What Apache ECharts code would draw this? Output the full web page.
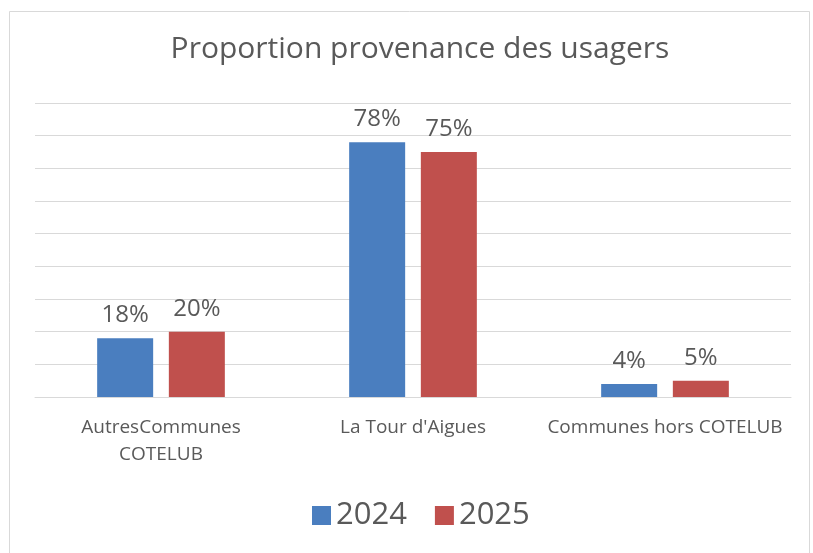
<!DOCTYPE html>
<html>
<head>
<meta charset="utf-8">
<script src="https://cdn.jsdelivr.net/npm/echarts@6/dist/echarts.min.js"></script>
<style>
html,body{margin:0;padding:0;background:#fff;}
#c{width:813px;height:553px;}
</style>
</head>
<body>
<div id="c"></div>
<script>
const categories = ['AutresCommunes\nCOTELUB', "La Tour d'Aigues", 'Communes hors COTELUB'];
const seriesNames = ['2024', '2025'];
const values2024 = [18, 78, 4];
const values2025 = [20, 75, 5];

const chart = echarts.init(document.getElementById('c'), null, {renderer: 'canvas'});
const font = 'Open Sans';
const gray = '#595959';
const labelCfg = {show: true, position: 'top', distance: 11, formatter: '{c}%', color: gray, fontFamily: font, fontSize: 24};
chart.setOption({
  backgroundColor: '#fff',
  animation: false,
  graphic: [{
    type: 'rect', left: 7, top: 9, shape: {x: 0, y: 0, width: 800, height: 560},
    style: {fill: 'none', stroke: '#d9d9d9', lineWidth: 1}, silent: true
  }],
  title: {
    text: 'Proportion provenance des usagers',
    left: 415, textAlign: 'center', top: 29,
    textStyle: {fontFamily: font, fontSize: 30, fontWeight: 'normal', color: gray}
  },
  legend: {
    data: seriesNames, bottom: 17, left: 307, icon: 'rect', itemWidth: 19, itemHeight: 19, itemGap: 28,
    textStyle: {fontFamily: font, fontSize: 31, color: gray}
  },
  grid: {left: 35, right: 22, top: 103, bottom: 156},
  xAxis: {
    type: 'category', data: categories,
    axisLine: {lineStyle: {color: '#d9d9d9'}}, axisTick: {show: false},
    axisLabel: {color: gray, fontFamily: font, fontSize: 19, margin: 17, lineHeight: 27, interval: 0}
  },
  yAxis: {
    type: 'value', min: 0, max: 90, interval: 10,
    axisLabel: {show: false}, axisLine: {show: false}, axisTick: {show: false},
    splitLine: {lineStyle: {color: '#d9d9d9', width: 1}}
  },
  series: [
    {name: seriesNames[0], type: 'bar', data: values2024, barWidth: 56, barGap: '28%', itemStyle: {color: '#4a7ebf'}, label: labelCfg},
    {name: seriesNames[1], type: 'bar', data: values2025, barWidth: 56, itemStyle: {color: '#c0504d'}, label: labelCfg}
  ]
});
</script>
</body>
</html>
